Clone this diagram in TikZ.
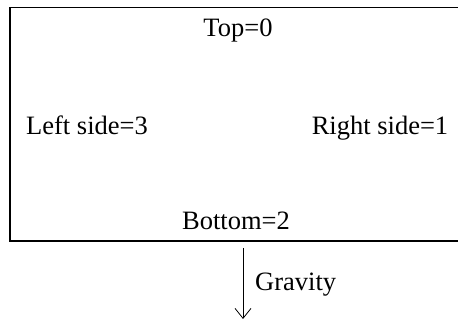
\documentclass[tikz,border=0pt]{standalone}
\usepackage{fontspec}
\setmainfont{Liberation Serif}
\usetikzlibrary{positioning, arrows.meta}

\begin{document}
\begin{tikzpicture}[
    x=1pt, y=-1pt,
    label/.style={
        anchor=base,
        inner sep=0pt,
        font=\fontsize{26.5}{31}\selectfont
    },
    frame/.style={draw, line width=1.8pt},
    arrow/.style={-{Straight Barb[length=10pt, width=16pt]}, line width=0.8pt}
]
\useasboundingbox (0,0) rectangle (458,320);

% Frame (right side runs off the picture)
\draw[frame] (458,7.5) -- (10,7.5) -- (10,241) -- (458,241);

% Side labels
\node[label] (top) at (238,37) {Top=0};
\node[label] (left) at (87,135) {Left side=3};
\node[label] (right) at (380,135) {Right side=1};
\node[label] (bottom) at (236,230) {Bottom=2};

% Gravity
\coordinate (gstart) at (243,248);
\coordinate (gend) at (243,319);
\draw[arrow] (gstart) -- (gend);
\node[label, anchor=base west] (gravity) at (255,291) {Gravity};

\end{tikzpicture}
\end{document}
